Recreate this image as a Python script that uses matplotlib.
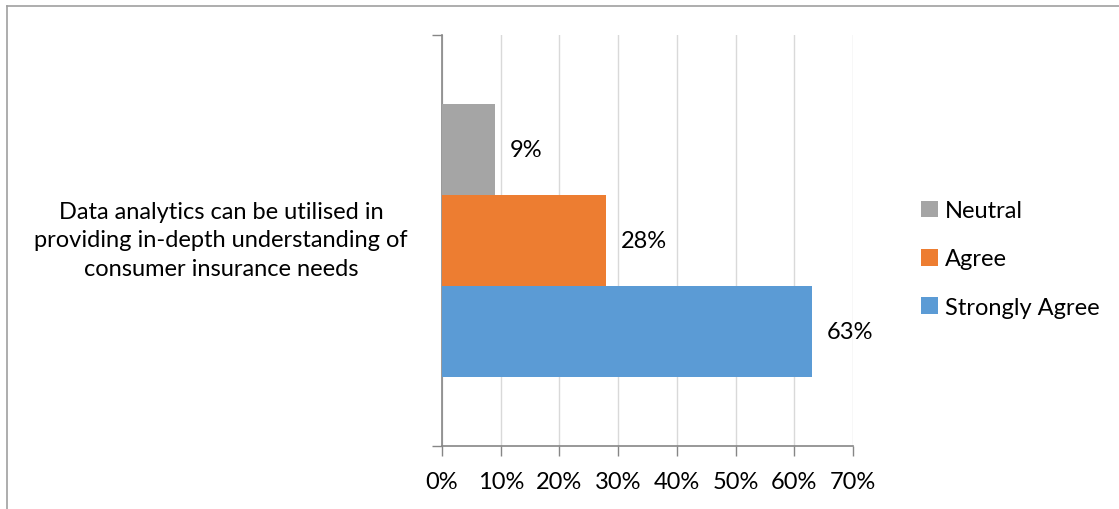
import matplotlib
matplotlib.use("Agg")
import matplotlib.pyplot as plt

# data
categories = ["Neutral", "Agree", "Strongly Agree"]
values = [9, 28, 63]
colors = ["#a5a5a5", "#ed7d31", "#5b9bd5"]
statement = "Data analytics can be utilised in\nproviding in-depth understanding of\nconsumer insurance needs"
xticks = [0, 10, 20, 30, 40, 50, 60, 70]

FONT = "Lato"
FS = 17
GRID = "#d9d9d9"
AXIS = "#868686"

fig = plt.figure(figsize=(11.19, 5.10), dpi=100)
ax = fig.add_axes([442 / 1119, 1 - 447 / 510, (853 - 442) / 1119, (447 - 36) / 510])

h = 0.2222
offsets = [h, 0, -h]
for cat, v, c, off in zip(categories, values, colors, offsets):
    ax.barh(off, v, height=h, color=c, label=cat, zorder=3)
    ax.text(v + 2.5, off, "%d%%" % v, va="center", ha="left",
            fontsize=FS, family=FONT, color="#000000")

ax.set_xlim(0, 70)
ax.set_ylim(-0.5, 0.5)
ax.set_xticks(xticks)
ax.set_xticklabels(["%d%%" % t for t in xticks], fontsize=FS, family=FONT)
ax.set_yticks([-0.5, 0.5])
ax.set_yticklabels([])
ax.tick_params(axis="x", length=7, width=1, color=AXIS, pad=11, direction="out")
ax.tick_params(axis="y", length=7, width=1, color=AXIS)
ax.grid(True, axis="x", color=GRID, lw=1, zorder=0)
for side in ("top", "right"):
    ax.spines[side].set_visible(False)
for side in ("left", "bottom"):
    ax.spines[side].set_color(AXIS)
    ax.spines[side].set_linewidth(1.2)

fig.text(221 / 1119, 1 - 241 / 510, statement, ha="center", va="center",
         fontsize=FS, family=FONT, linespacing=1.45)

handles, labels = ax.get_legend_handles_labels()
leg = fig.legend(handles, labels, loc="center left",
                 bbox_to_anchor=(900 / 1119, 1 - 260 / 510),
                 frameon=False, prop={"family": FONT, "size": FS},
                 handlelength=0.7, handleheight=0.7, handletextpad=0.3,
                 labelspacing=1.15)

# outer frame (top and left edges visible)
fig.add_artist(plt.Line2D([7 / 1119, 7 / 1119], [0, 1 - 7 / 510],
                          transform=fig.transFigure, color="#a0a0a0", lw=1.2))
fig.add_artist(plt.Line2D([7 / 1119, 1], [1 - 7 / 510, 1 - 7 / 510],
                          transform=fig.transFigure, color="#a0a0a0", lw=1.2))

fig.savefig("out.png", dpi=100, facecolor="white")
